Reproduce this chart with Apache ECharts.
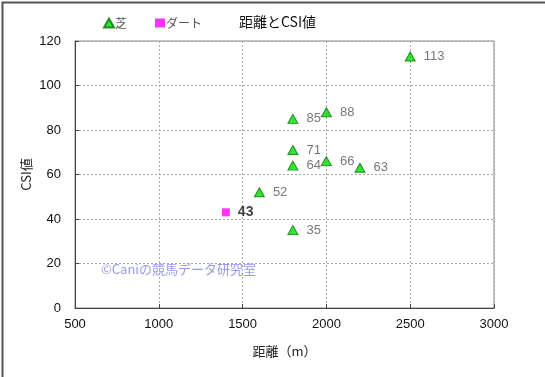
<!DOCTYPE html>
<html><head><meta charset="utf-8">
<script src="https://cdn.jsdelivr.net/npm/echarts@6/dist/echarts.min.js"></script>
<style>html,body{margin:0;padding:0;background:#fff}#c{width:545px;height:377px}</style>
</head><body><div id="c"></div>
<script>
const turfX = [1800, 2000, 2500, 1800, 1800, 2000, 2200, 1600, 1800];
const turfY = [85, 88, 113, 71, 64, 66, 63, 52, 35];
const dirtX = [1400];
const dirtY = [43];
const seriesNames = ['芝', 'ダート'];
const titleText = '距離とCSI値';
const xName = '距離（m）';
const yName = 'CSI値';
const watermark = '©Caniの競馬データ研究室';

const F = '"Liberation Sans", "Noto Sans CJK JP", sans-serif';
const J = '"Noto Sans CJK JP", sans-serif';
const chart = echarts.init(document.getElementById('c'), null, {renderer: 'canvas'});
const pairs = (xs, ys) => xs.map((x, i) => [x, ys[i]]);
chart.setOption({
  animation: false,
  backgroundColor: '#fff',
  title: {text: titleText, left: 234, top: 10, textStyle: {fontFamily: J, fontSize: 14, fontWeight: 'normal', color: '#111'}},
  legend: {
    left: 98, top: 12, itemWidth: 10, itemHeight: 9, itemGap: 28,
    textStyle: {fontFamily: J, fontSize: 12, color: '#555', padding: [0, 0, 0, -4]},
    data: [{name: seriesNames[0], icon: 'triangle'}, {name: seriesNames[1], icon: 'rect'}]
  },
  grid: {left: 75, right: 51, top: 41, bottom: 69, show: true, borderColor: '#888', borderWidth: 1},
  xAxis: {
    type: 'value', min: 500, max: 3000, interval: 500,
    name: xName, nameLocation: 'middle', nameGap: 37,
    nameTextStyle: {fontFamily: J, fontSize: 13, color: '#222'},
    axisLine: {show: true, lineStyle: {color: '#444', width: 1}},
    axisTick: {show: true, inside: true, length: 4, lineStyle: {color: '#444'}},
    axisLabel: {fontFamily: F, fontSize: 13, color: '#111', margin: 10, formatter: v => String(v)},
    splitLine: {show: true, lineStyle: {color: '#aaa', type: [2, 2], width: 1}}
  },
  yAxis: {
    type: 'value', min: 0, max: 120, interval: 20,
    name: yName, nameLocation: 'middle', nameGap: 42, nameRotate: 90, nameMoveOverlap: false,
    nameTextStyle: {fontFamily: J, fontSize: 13, color: '#222'},
    axisLine: {show: true, lineStyle: {color: '#444', width: 1}},
    axisTick: {show: true, inside: true, length: 4, lineStyle: {color: '#444'}},
    axisLabel: {fontFamily: F, fontSize: 13, color: '#111', margin: 14},
    splitLine: {show: true, lineStyle: {color: '#aaa', type: [2, 2], width: 1}}
  },
  graphic: [
    {type: 'rect', left: 0, top: 0, shape: {width: 544, height: 376}, style: {fill: 'none', stroke: '#555', lineWidth: 2}, silent: true, z: 100},
    {type: 'text', left: 101, top: 263, style: {text: watermark, fill: '#9a9aee', font: '13px "Noto Sans CJK JP", sans-serif'}, z: 1}
  ],
  series: [
    {
      name: seriesNames[0], type: 'scatter', symbol: 'triangle', symbolSize: [10, 9],
      itemStyle: {color: '#00dd00', borderColor: '#007700', borderWidth: 1},
      label: {show: true, position: 'right', distance: 8, formatter: p => p.value[1], fontFamily: F, fontSize: 13, color: '#555'},
      data: pairs(turfX, turfY), z: 5
    },
    {
      name: seriesNames[1], type: 'scatter', symbol: 'rect', symbolSize: 8,
      itemStyle: {color: '#ff00ff'},
      label: {show: true, position: 'right', distance: 8, formatter: p => p.value[1], fontFamily: F, fontSize: 14, fontWeight: 'bold', color: '#111'},
      data: pairs(dirtX, dirtY), z: 5
    }
  ]
});
</script></body></html>
